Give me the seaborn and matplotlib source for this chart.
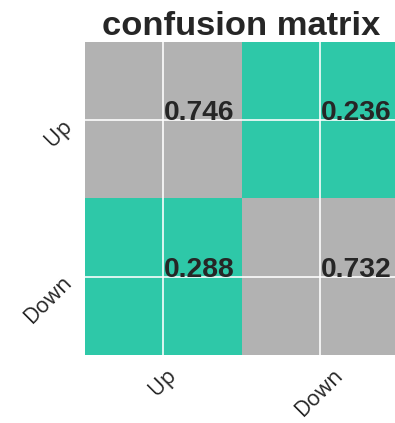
import numpy as np
import pandas as pd
import matplotlib
matplotlib.use("Agg")
import matplotlib.pyplot as plt
import matplotlib.transforms as mtransforms
import seaborn as sns
from matplotlib.colors import ListedColormap

# Class labels and normalised confusion-matrix rates (rows: true, cols: predicted)
labels = ["Up", "Down"]
rates_up = [0.746, 0.236]
rates_down = [0.288, 0.732]

gray = "#b2b2b2"
teal = "#2ec8a8"

sns.set_theme(style="darkgrid")

rates = pd.DataFrame([rates_up, rates_down], index=labels, columns=labels)
# diagonal cells (correct) in gray, off-diagonal cells (errors) in teal
is_error = pd.DataFrame(
    [[int(r != c) for c in labels] for r in labels], index=labels, columns=labels
)

fig = plt.figure(figsize=(3.95, 4.23), dpi=100)
ax = fig.add_axes([85 / 395, 1 - 355 / 423, 313 / 395, 313 / 423])

sns.heatmap(is_error, cmap=ListedColormap([gray, teal]), vmin=0, vmax=1,
            cbar=False, ax=ax)

ax.grid(True, color="white", linewidth=1.3, alpha=0.9)
ax.set_axisbelow("line")

for i, r in enumerate(labels):
    for j, c in enumerate(labels):
        ax.text(j + 0.507, i + 0.5, f"{rates.loc[r, c]:.3f}", ha="left",
                va="baseline", fontsize=20.3, fontweight="bold",
                family="Liberation Sans", color="#262626", zorder=3)

ax.set_xticks([0.5, 1.5])
ax.set_yticks([0.5, 1.5])
ax.set_xticklabels(labels, rotation=45, ha="center", va="top",
                   fontsize=15.5, family="Open Sans", color="#262626")
ax.set_yticklabels(labels, rotation=45, ha="right", va="top",
                   fontsize=15.5, family="Open Sans", color="#262626")
ax.tick_params(axis="x", length=0, pad=7)
ax.tick_params(axis="y", length=0, pad=6)
# nudge the rotated y labels up so their ink starts at the tick line
shift = mtransforms.ScaledTranslation(0, 3.5 / 72, fig.dpi_scale_trans)
for lab in ax.get_yticklabels():
    lab.set_transform(lab.get_transform() + shift)
ax.set_xlabel("")
ax.set_ylabel("")

ax.set_title("confusion matrix", fontsize=24.8, fontweight="bold",
             family="Liberation Sans", color="#262626", pad=5)

fig.savefig("out.png", dpi=100)
